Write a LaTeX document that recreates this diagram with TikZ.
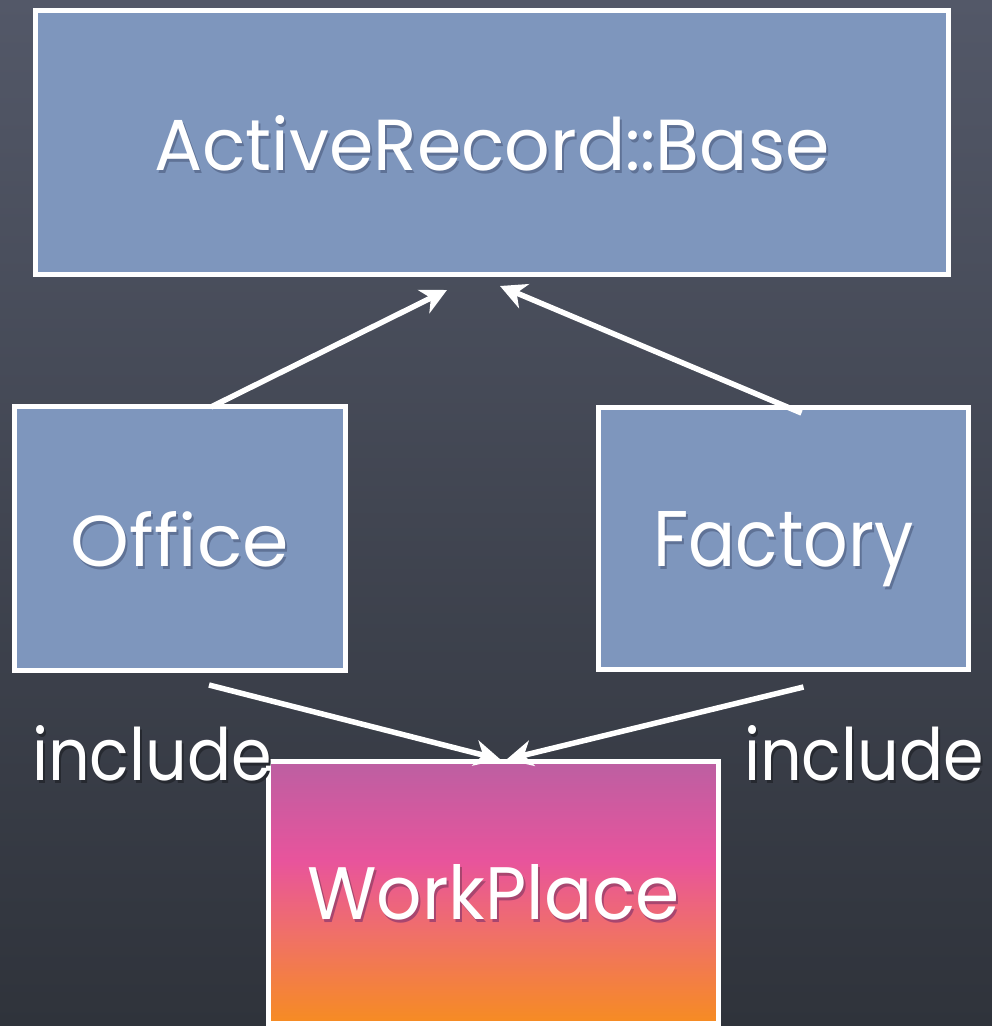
\documentclass[tikz,border=0pt]{standalone}
\usepackage{fontspec}
\setmainfont{Poppins}
\usetikzlibrary{arrows.meta}

\definecolor{bgtop}{HTML}{535868}
\definecolor{bgbot}{HTML}{2F333B}
\definecolor{boxfill}{HTML}{7E96BD}
\definecolor{boxshade}{HTML}{5F7296}
\definecolor{wpshade}{HTML}{A8466F}
\definecolor{tagshade}{HTML}{262930}
\definecolor{wporange}{HTML}{F68C22}
\definecolor{wpsalmon}{HTML}{F07068}
\definecolor{wppink}{HTML}{E8549C}
\definecolor{wppurple}{HTML}{BC5FA2}

% pink-to-orange fill of the WorkPlace box (bottom to top)
\pgfdeclareverticalshading{workplace}{100bp}{%
  color(0bp)=(wporange); color(25bp)=(wporange);
  color(42bp)=(wpsalmon); color(56bp)=(wppink);
  color(75bp)=(wppurple); color(100bp)=(wppurple)}

% label text scaled to a given width, 55pt tall above the baseline,
% with a small drop shadow; depth is hidden so the words sit centred
\newcommand\lbl[3][boxshade]{%
  \raisebox{0pt}[\height][0pt]{%
    \rlap{\kern2pt\raisebox{-3pt}{\resizebox{#2}{55pt}{\textcolor{#1}{#3}}}}%
    \resizebox{#2}{55pt}{#3}}}

\begin{document}
\begin{tikzpicture}[x=1pt,y=-1pt,
  box/.style={draw=white, line width=5pt, fill=boxfill, text=white,
    inner sep=0pt, rectangle},
  arr/.style={draw=white, line width=5.5pt,
    -{Stealth[length=26pt,width=26pt,inset=8pt]}},
  tag/.style={text=white, inner sep=0pt}]

\useasboundingbox (0,0) rectangle (992,1026);
\fill[top color=bgtop, bottom color=bgbot] (0,0) rectangle (992,1026);

% classes
\node[box, minimum width=913pt, minimum height=264pt] (base) at (492,142.5)
  {\lbl{675pt}{ActiveRecord::Base}};
\node[box, minimum width=331pt, minimum height=264pt] (office) at (180,538.5)
  {\lbl{218pt}{Office}};
\node[box, minimum width=370pt, minimum height=262pt] (factory) at (783.5,538.5)
  {\lbl{260pt}{Factory}};

% module
\node[draw=white, line width=5pt, shading=workplace, text=white,
  inner sep=0pt, minimum width=450pt, minimum height=262pt]
  (workplace) at (493.5,892) {\lbl[wpshade]{372pt}{WorkPlace}};

% inheritance
\draw[arr] ([xshift=31pt,yshift=-3pt]office.north)
  -- ([xshift=-45pt,yshift=-13pt]base.south);
\draw[arr] ([xshift=18pt,yshift=-8pt]factory.north)
  -- ([xshift=8pt,yshift=-9pt]base.south);

% mixins
\draw[arr] ([xshift=29pt,yshift=-12pt]office.south)
  -- ([xshift=7pt,yshift=-1pt]workplace.north);
\draw[arr] ([xshift=20pt,yshift=-15pt]factory.south)
  -- ([xshift=13pt,yshift=-1pt]workplace.north);

\node[tag] (incl) at (152,752.5) {\lbl[tagshade]{240pt}{include}};
\node[tag] (incr) at (864,752.5) {\lbl[tagshade]{240pt}{include}};
\end{tikzpicture}
\end{document}
